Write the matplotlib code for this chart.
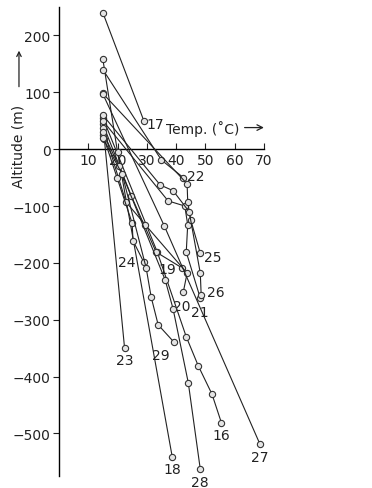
import matplotlib
matplotlib.use("Agg")
import matplotlib.pyplot as plt

# temperature (deg C) and altitude (m) along each profile
t16 = [15, 33.6, 43.5, 47.6, 52.3, 55.5]
a16 = [55, -181, -330, -381, -431, -481]
t17 = [15, 29]
a17 = [240, 50]
t18 = [15, 20, 38.7]
a18 = [158, -5, -541]
t19 = [15, 24.7, 33.2, 42.1]
a19 = [44, -82, -181, -209]
t20 = [15, 22.9, 29.5, 43.8, 42.5]
a20 = [38, -93, -133, -218, -251]
t21 = [15, 37.3, 43, 44, 43.5, 48.3]
a21 = [50, -91, -100, -133, -181, -262]
t22 = [15, 35, 42.5]
a22 = [140, -19, -50]
t23 = [15.5, 22.4]
a23 = [18, -349]
t24 = [15, 19.9, 25, 25.3, 29]
a24 = [25, -51, -130, -161, -199]
t25 = [15, 43.8, 44, 45, 48.3]
a25 = [98, -61, -93, -124, -183]
t26 = [15, 34.6, 39, 44.5, 48.3, 48.6]
a26 = [60, -63, -73, -110, -218, -256]
t27 = [15, 36, 68.7]
a27 = [97, -135, -519]
t28 = [15, 20.5, 36.3, 39, 44.2, 48.3]
a28 = [30, -30, -230, -281, -411, -563]
t29 = [15, 21.6, 29.8, 31.5, 33.9, 39.4]
a29 = [20, -44, -209, -260, -309, -340]

profiles = [("16", t16, a16), ("17", t17, a17), ("18", t18, a18), ("19", t19, a19),
            ("20", t20, a20), ("21", t21, a21), ("22", t22, a22), ("23", t23, a23),
            ("24", t24, a24), ("25", t25, a25), ("26", t26, a26), ("27", t27, a27),
            ("28", t28, a28), ("29", t29, a29)]

# where each number sits relative to the last point (points, ha, va)
label_pos = {"16": (0, -4, "center", "top"), "17": (2, -2, "left", "center"),
             "18": (0, -4, "center", "top"), "19": (-4, -1, "right", "center"),
             "20": (-1, -5, "center", "top"), "21": (0, -5, "center", "top"),
             "22": (3, 1, "left", "center"), "23": (0, -4, "center", "top"),
             "24": (-6, 0, "right", "center"), "25": (3, -3, "left", "center"),
             "26": (4, 2, "left", "center"), "27": (0, -4, "center", "top"),
             "28": (0, -4, "center", "top"), "29": (-3, -4, "right", "top")}

fig = plt.figure(figsize=(3.72, 4.89), dpi=100)
ax = fig.add_axes([0.1586, 0.0245, 0.8414, 0.959])

for name, t, a in profiles:
    ax.plot(t, a, color="#222222", lw=0.8, marker="o", ms=4.5,
            mfc="#e4e4e4", mec="#333333", mew=0.8, zorder=3)
    dx, dy, ha, va = label_pos[name]
    ax.annotate(name, (t[-1], a[-1]), xytext=(dx, dy), textcoords="offset points",
                ha=ha, va=va, fontsize=10, color="#222222", annotation_clip=False)

ax.set_xlim(0, 107)
ax.set_ylim(-575, 250)

ax.spines["top"].set_visible(False)
ax.spines["right"].set_visible(False)
ax.spines["bottom"].set_position(("data", 0))
ax.spines["bottom"].set_bounds(0, 70)
ax.spines["left"].set_linewidth(1.0)
ax.spines["bottom"].set_linewidth(1.0)

ax.set_xticks([10, 20, 30, 40, 50, 60, 70])
ax.set_yticks([-500, -400, -300, -200, -100, 0, 100, 200])
ax.tick_params(axis="x", direction="in", length=4, labelsize=10, pad=3, colors="#222222")
ax.tick_params(axis="y", direction="out", length=4, labelsize=10, pad=2, colors="#222222")

ax.text(36.5, 38, "Temp. (˚C)", fontsize=10, ha="left", va="center", color="#222222")
ax.annotate("", xy=(71, 38), xytext=(62.5, 38),
            arrowprops=dict(arrowstyle="->", color="#222222", lw=0.9))

fig.text(0.051, 0.70, "Altitude (m)", rotation=90, fontsize=10, ha="center",
         va="center", color="#222222")
fig.add_artist(matplotlib.patches.FancyArrowPatch((0.051, 0.815), (0.051, 0.90),
               transform=fig.transFigure, arrowstyle="->", mutation_scale=8,
               color="#222222", lw=0.9))

fig.savefig("out.png", dpi=100)
